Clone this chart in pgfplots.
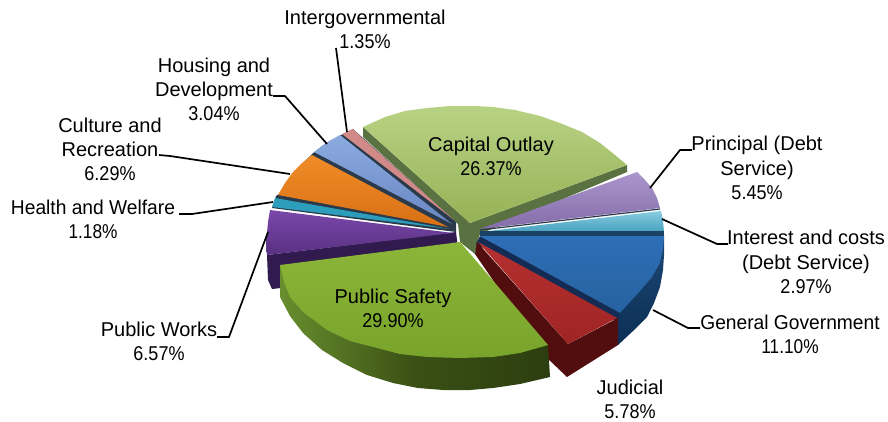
\documentclass[border=0pt]{standalone}
\usepackage{graphicx}
\usepackage{pgfplots}
\pgfplotsset{compat=1.18}
\usepackage{fontspec}
\setmainfont{Liberation Sans}
\definecolor{sep}{HTML}{2A3A4A}
\newcommand{\pct}[1]{\scalebox{.9}[1]{#1\%}}
\tikzset{lab/.style={align=center,font=\fontsize{20}{24.3}\selectfont,inner sep=0pt,text=black},
  lead/.style={black,line width=1.7pt,no markers,line join=round}}
\pgfplotsset{face/.style={no markers,draw=none,shade,shading angle=0}}
\begin{document}
\begin{tikzpicture}
\useasboundingbox (0,0) rectangle (888pt,421pt);
\begin{axis}[at={(0,0)},anchor=south west,scale only axis,width=888pt,height=421pt,
  xmin=0,xmax=888,ymin=0,ymax=421,y dir=reverse,axis lines=none,clip=false]

% Capital Outlay: inner walls, then top face
\addplot[no markers,draw=none,fill={rgb,255:red,90;green,114;blue,66}] coordinates {(363,127)(363,137)(458,224)(460,242)(475,254)(478,240)(480,234)(627,172)(627,165)(470,223)} -- cycle;
\addplot[face,top color={rgb,255:red,184;green,210;blue,132},bottom color={rgb,255:red,150;green,178;blue,86}] coordinates {(363,127)(385,117)(405,111)(427,108)(450,106)(475,106)(493,107)(515,110)(540,116)(560,123)(582,132)(600,143)(615,155)(627,165)(470,223)} -- cycle;

% Principal (Debt Service)
\addplot[face,top color={rgb,255:red,170;green,150;blue,205},bottom color={rgb,255:red,132;green,108;blue,168}] coordinates {(637,172)(645,180)(652,188)(657,198)(660,208)(480,229)} -- cycle;
\addplot[no markers,sep,line width=1.2pt] coordinates {(660,209)(480,230)};

% Interest and costs (Debt Service)
\addplot[face,top color={rgb,255:red,135;green,205;blue,225},bottom color={rgb,255:red,72;green,160;blue,190}] coordinates {(661,211)(663,221)(664,232)(480,232)} -- cycle;
\addplot[no markers,draw=none,fill={rgb,255:red,26;green,66;blue,100}] coordinates {(480,231)(664,231)(664,236)(480,236)} -- cycle;

% General Government: outer wall, inner wall, then top face
\addplot[face,top color={rgb,255:red,28;green,72;blue,116},bottom color={rgb,255:red,12;green,46;blue,84}] coordinates {(664,235)(664,255)(663,270)(660,287)(654,303)(647,317)(633,331)(618,345)(618,313)} -- cycle;
\addplot[no markers,draw=none,fill={rgb,255:red,20;green,44;blue,84}] coordinates {(480,236)(621,311)(618,322)(476,244)} -- cycle;
\addplot[face,top color={rgb,255:red,46;green,110;blue,182},bottom color={rgb,255:red,38;green,98;blue,160}] coordinates {(480,236)(664,236)(663,248)(660,263)(652,277)(640,291)(630,302)(620,313)} -- cycle;

% Public Works: wall, then top face
\addplot[no markers,draw=none,fill={rgb,255:red,48;green,26;blue,78}] coordinates {(267,255)(268,280)(272,289)(281,288)(281,270)(458,248)(456,232)} -- cycle;
\addplot[face,top color={rgb,255:red,122;green,72;blue,170},bottom color={rgb,255:red,88;green,48;blue,130}] coordinates {(270,210)(268,222)(267,233)(266,245)(267,255)(453,233)} -- cycle;

% Dark walls seen between the narrow slices on the left
\addplot[no markers,draw=none,fill=sep] coordinates {(272,208)(276,196)(279,194)(294,172)(312,154)(326,143)(341,135)(353,129)(456,222)(456,232)} -- cycle;

% Health and Welfare
\addplot[no markers,draw=none,fill={rgb,255:red,44;green,158;blue,188}] coordinates {(275,198)(272,207)(450,229)} -- cycle;

% Culture and Recreation
\addplot[face,top color={rgb,255:red,240;green,140;blue,40},bottom color={rgb,255:red,216;green,112;blue,20}] coordinates {(312,155)(302,163)(293,172)(285,183)(278,195)(448,227)} -- cycle;

% Housing and Development
\addplot[face,top color={rgb,255:red,140;green,172;blue,224},bottom color={rgb,255:red,104;green,134;blue,196}] coordinates {(314,152)(326,143)(340,135)(452,224)} -- cycle;

% Intergovernmental
\addplot[no markers,draw=none,fill={rgb,255:red,210;green,138;blue,136}] coordinates {(342,134)(353,129)(360,136)(454,220)} -- cycle;

% Judicial: walls, then top face
\addplot[no markers,draw=none,fill={rgb,255:red,82;green,14;blue,14}] coordinates {(477,242)(475,254)(545,356)(567,377)(618,345)(618,318)(568,344)} -- cycle;
\addplot[face,top color={rgb,255:red,182;green,48;blue,48},bottom color={rgb,255:red,160;green,36;blue,36}] coordinates {(478,242)(617,318)(568,344)} -- cycle;

% Public Safety: outer wall, then top face
\addplot[no markers,draw=none,left color={rgb,255:red,104;green,142;blue,46},right color={rgb,255:red,44;green,62;blue,16},middle color={rgb,255:red,58;green,80;blue,20},shade] coordinates {(280,265)(280,297)(290,316)(303,333)(322,350)(343,363)(367,375)(393,383)(418,388)(443,390)(470,390)(493,388)(520,384)(550,377)(548,345)} -- cycle;
\addplot[face,top color={rgb,255:red,140;green,182;blue,56},bottom color={rgb,255:red,120;green,164;blue,44}] coordinates {(460,242)(280,265)(284,282)(290,297)(303,312)(327,330)(350,341)(377,348)(400,354)(427,357)(460,358)(493,357)(520,353)(548,345)} -- cycle;

% Leader lines
\addplot[lead] coordinates {(336,48)(347,132)};
\addplot[lead] coordinates {(273,96)(285,96)(327,144)};
\addplot[lead] coordinates {(159,155)(170,156)(290,174)};
\addplot[lead] coordinates {(179,214)(192,214)(273,202)};
\addplot[lead] coordinates {(217,337)(229,337)(268,232)};
\addplot[lead] coordinates {(692,150)(680,150)(650,188)};
\addplot[lead] coordinates {(728,244)(717,244)(662,219)};
\addplot[lead] coordinates {(700,328)(688,328)(653,310)};

% Category labels with their shares
\node[lab] at (axis cs:365,29.5) {Intergovernmental\\\pct{1.35}};
\node[lab] at (axis cs:214,89.5) {Housing and\\Development\\\pct{3.04}};
\node[lab] at (axis cs:110,149.5) {Culture and\\Recreation\\\pct{6.29}};
\node[lab,xscale=.96] at (axis cs:93,219) {Health and Welfare\\\pct{1.18}};
\node[lab] at (axis cs:159,341) {Public Works\\\pct{6.57}};
\node[lab] at (axis cs:491,156) {Capital Outlay\\\pct{26.37}};
\node[lab] at (axis cs:393,308) {Public Safety\\\pct{29.90}};
\node[lab] at (axis cs:757,168) {Principal (Debt\\Service)\\\pct{5.45}};
\node[lab] at (axis cs:806,262) {Interest and costs\\(Debt Service)\\\pct{2.97}};
\node[lab,xscale=.96] at (axis cs:790,334) {General Government\\\pct{11.10}};
\node[lab] at (axis cs:630,399) {Judicial\\\pct{5.78}};
\end{axis}
\end{tikzpicture}
\end{document}
